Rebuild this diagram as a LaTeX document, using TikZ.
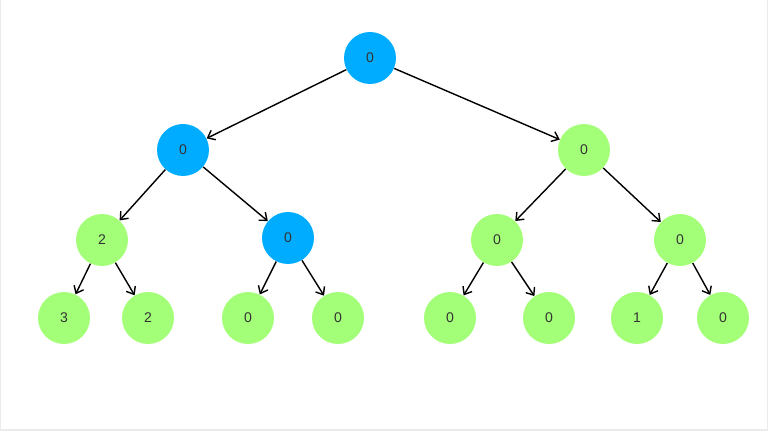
\documentclass[tikz,border=0pt]{standalone}
\usepackage{fontspec}
\setmainfont{Liberation Sans}
\usetikzlibrary{arrows.meta}

\definecolor{visited}{RGB}{0,172,255}
\definecolor{fresh}{RGB}{163,255,120}

\begin{document}
\begin{tikzpicture}[x=0.02cm, y=-0.02cm,
    vtx/.style={circle, minimum size=1.04cm, inner sep=0pt,
        font=\fontsize{8}{9}\selectfont, text=black!80},
    blue/.style={vtx, fill=visited},
    green/.style={vtx, fill=fresh},
    edge/.style={-{Straight Barb[length=1.3mm, width=2.1mm]}, line width=0.8pt}]
    \useasboundingbox (0, 0) rectangle (768, 431);
    \draw[black!8, line width=0.6pt] (0.5, 0) -- (0.5, 430) -- (767.5, 430) -- (767.5, 0);

    \node[blue] (R) at (370, 58) {0};

    \node[blue] (A) at (183, 150) {0};
    \node[green] (B) at (584, 150) {0};

    \node[green] (C) at (102, 240) {2};
    \node[blue] (D) at (288, 238) {0};
    \node[green] (E) at (497, 240) {0};
    \node[green] (F) at (680, 240) {0};

    \node[green] (C1) at (64, 318) {3};
    \node[green] (C2) at (148, 318) {2};
    \node[green] (D1) at (248, 318) {0};
    \node[green] (D2) at (338, 318) {0};
    \node[green] (E1) at (450, 318) {0};
    \node[green] (E2) at (549, 318) {0};
    \node[green] (F1) at (637, 318) {1};
    \node[green] (F2) at (723, 318) {0};

    \draw[edge] (R) -- (A);
    \draw[edge] (R) -- (B);
    \draw[edge] (A) -- (C);
    \draw[edge] (A) -- (D);
    \draw[edge] (B) -- (E);
    \draw[edge] (B) -- (F);
    \draw[edge] (C) -- (C1);
    \draw[edge] (C) -- (C2);
    \draw[edge] (D) -- (D1);
    \draw[edge] (D) -- (D2);
    \draw[edge] (E) -- (E1);
    \draw[edge] (E) -- (E2);
    \draw[edge] (F) -- (F1);
    \draw[edge] (F) -- (F2);
\end{tikzpicture}
\end{document}
